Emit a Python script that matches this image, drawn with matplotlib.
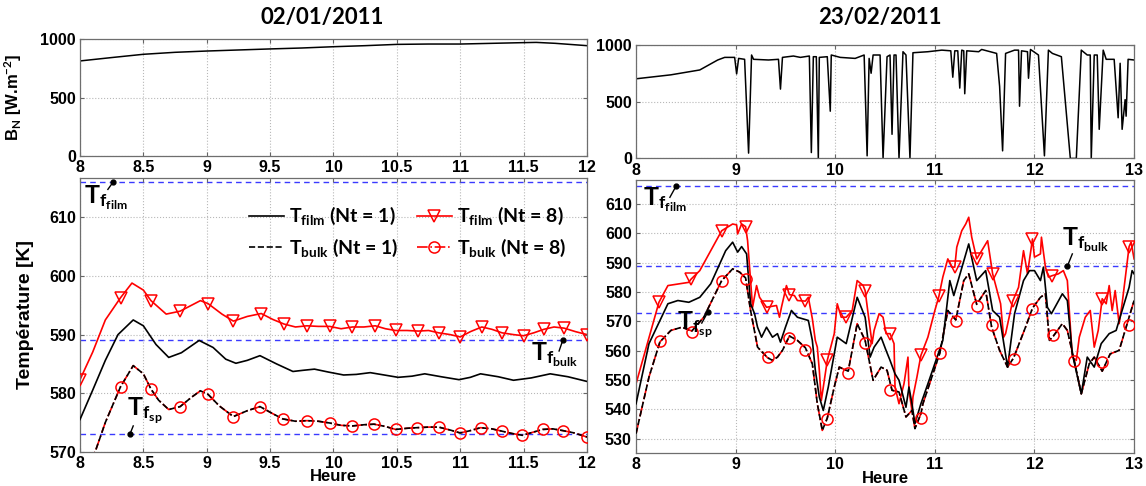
import numpy as np
import matplotlib
matplotlib.use('Agg')
import matplotlib.pyplot as plt
from matplotlib.lines import Line2D
from matplotlib.font_manager import FontProperties

plt.rcParams['font.family'] = ['Liberation Sans', 'DejaVu Sans']
plt.rcParams['mathtext.fontset'] = 'custom'
plt.rcParams['mathtext.rm'] = 'Lato:bold'
plt.rcParams['mathtext.bf'] = 'Lato:bold'
plt.rcParams['mathtext.it'] = 'Lato:bold'

TICK_FONT = FontProperties(family='Liberation Sans', weight='bold', size=11.5)

# ---- 02/01/2011 : direct normal irradiance ----
hours_bn_l = [8.00, 8.25, 8.50, 8.75, 9.00, 9.25, 9.50, 9.75, 10.00, 10.25, 10.50,
              10.75, 11.00, 11.25, 11.50, 11.60, 11.75, 12.00]
bn_l = [815, 844, 872, 889, 900, 909, 918, 926, 937, 946, 957,
        960, 960, 966, 972, 974, 966, 946]

# ---- 02/01/2011 : temperatures ----
hours_film1_l = [8.00, 8.10, 8.20, 8.30, 8.42, 8.50, 8.60, 8.70, 8.80, 8.94,
                 9.05, 9.15, 9.23, 9.32, 9.42, 9.55, 9.68, 9.76, 9.85, 9.96,
                 10.08, 10.18, 10.29, 10.40, 10.51, 10.62, 10.72, 10.85, 10.99, 11.08,
                 11.16, 11.30, 11.42, 11.56, 11.71, 11.85, 12.00]
film1_l = [575.5, 580.5, 585.6, 590.0, 592.5, 591.5, 588.3, 586.1, 586.9, 589.0,
           587.8, 585.8, 585.1, 585.6, 586.4, 585.0, 583.7, 583.9, 584.1, 583.6,
           583.1, 583.2, 583.5, 583.1, 582.7, 582.9, 583.3, 582.8, 582.3, 582.7,
           583.3, 582.8, 582.2, 582.6, 583.3, 582.8, 582.0]

hours_film8_l = [8.00, 8.10, 8.20, 8.32, 8.41, 8.50, 8.56, 8.68, 8.79, 8.95,
                 9.01, 9.12, 9.21, 9.32, 9.43, 9.52, 9.61, 9.70, 9.79, 9.88,
                 9.97, 10.06, 10.15, 10.24, 10.33, 10.41, 10.49, 10.58, 10.67, 10.75,
                 10.83, 10.92, 11.00, 11.08, 11.17, 11.25, 11.33, 11.42, 11.50, 11.58,
                 11.66, 11.74, 11.82, 11.91, 12.00]
film8_l = [582.3, 587.0, 592.5, 596.3, 598.8, 597.6, 595.8, 593.5, 594.0, 595.8,
           595.3, 593.5, 592.3, 593.1, 593.6, 592.6, 591.8, 591.3, 591.5, 591.4,
           591.4, 591.0, 591.3, 591.3, 591.5, 591.0, 590.7, 590.7, 590.6, 590.7,
           590.3, 590.0, 589.6, 590.5, 591.3, 590.9, 590.3, 590.0, 589.8, 590.3,
           590.9, 591.3, 591.1, 590.5, 590.0]
hours_film8_mk_l = [8.00, 8.32, 8.56, 8.79, 9.01, 9.21, 9.43, 9.61, 9.79, 9.97, 10.15,
                    10.33, 10.49, 10.67, 10.83, 11.00, 11.17, 11.33, 11.50, 11.66, 11.82, 12.00]
film8_mk_l = [582.3, 596.3, 595.8, 594.0, 595.3, 592.3, 593.6, 591.8, 591.5, 591.4, 591.3,
              591.5, 590.7, 590.6, 590.3, 589.6, 591.3, 590.3, 589.8, 590.9, 591.1, 590.0]

# bulk temperature: Nt = 1 and Nt = 8 lie on top of each other
hours_bulk_l = [8.00, 8.12, 8.20, 8.32, 8.42, 8.50, 8.56, 8.62, 8.70, 8.79,
                8.88, 8.95, 9.01, 9.10, 9.21, 9.32, 9.42, 9.52, 9.60, 9.70,
                9.79, 9.88, 9.97, 10.06, 10.15, 10.24, 10.32, 10.41, 10.49, 10.58,
                10.66, 10.75, 10.83, 10.92, 11.00, 11.08, 11.16, 11.25, 11.33, 11.41,
                11.49, 11.57, 11.65, 11.73, 11.81, 11.90, 12.00]
bulk1_l = [565.0, 570.0, 575.0, 581.1, 584.7, 583.3, 580.7, 578.8, 577.2, 577.7,
           579.3, 580.4, 579.8, 577.8, 576.0, 577.0, 577.7, 576.5, 575.6, 575.2,
           575.3, 575.2, 574.9, 574.5, 574.4, 574.6, 574.7, 574.3, 573.8, 574.0,
           574.1, 574.2, 574.2, 573.7, 573.2, 573.6, 574.1, 573.9, 573.5, 573.1,
           572.8, 573.3, 573.8, 573.9, 573.6, 573.2, 572.5]
bulk8_l = list(bulk1_l)
hours_bulk8_mk_l = [8.32, 8.56, 8.79, 9.01, 9.21, 9.42, 9.60, 9.79, 9.97, 10.15, 10.32,
                    10.49, 10.66, 10.83, 11.00, 11.16, 11.33, 11.49, 11.65, 11.81, 12.00]
bulk8_mk_l = [581.1, 580.7, 577.7, 579.8, 576.0, 577.7, 575.6, 575.3, 574.9, 574.4, 574.7,
              573.8, 574.1, 574.2, 573.2, 574.1, 573.5, 572.8, 573.8, 573.6, 572.5]

# ---- 23/02/2011 : direct normal irradiance ----
hours_bn_r = [8.00, 8.35, 8.64, 8.82, 8.89, 8.99, 9.01, 9.03, 9.09, 9.13, 9.16, 9.18,
              9.33, 9.43, 9.45, 9.47, 9.58, 9.65, 9.74, 9.76, 9.78, 9.81, 9.83, 9.84,
              9.92, 9.95, 9.96, 10.05, 10.20, 10.29, 10.32, 10.34, 10.36, 10.38, 10.45,
              10.48, 10.52, 10.55, 10.57, 10.59, 10.61, 10.64, 10.68, 10.71, 10.75, 10.78,
              10.93, 11.07, 11.16, 11.18, 11.20, 11.23, 11.25, 11.27, 11.29, 11.30, 11.32,
              11.44, 11.47, 11.62, 11.65, 11.68, 11.71, 11.80, 11.84, 11.85, 11.87, 11.93,
              11.94, 11.96, 12.04, 12.10, 12.14, 12.18, 12.27, 12.36, 12.42, 12.47, 12.53,
              12.56, 12.57, 12.60, 12.63, 12.65, 12.69, 12.72, 12.80, 12.84, 12.86, 12.88,
              12.91, 12.92, 12.94, 13.00]
bn_r = [703, 738, 781, 869, 892, 892, 746, 883, 875, 47, 913, 875,
        869, 875, 612, 892, 904, 892, 904, 52, 898, 898, 0, 892,
        898, 417, 913, 892, 883, 913, 23, 883, 752, 913, 913,
        0, 898, 913, 213, 913, 913, 0, 942, 913, 0, 933,
        942, 956, 950, 717, 950, 950, 621, 956, 950, 571, 950,
        942, 962, 927, 636, 67, 927, 956, 956, 461, 950, 942,
        708, 962, 913, 23, 956, 927, 898, 0, 0, 956, 913,
        913, 0, 913, 913, 257, 956, 875, 875, 359, 840, 257,
        519, 373, 875, 869]

# ---- 23/02/2011 : temperatures ----
hours_film1_r = [8.00, 8.13, 8.32, 8.42, 8.53, 8.64, 8.75, 8.90, 8.97, 9.02, 9.06, 9.11,
                 9.15, 9.19, 9.22, 9.26, 9.31, 9.37, 9.42, 9.45, 9.50, 9.56, 9.62, 9.73,
                 9.77, 9.80, 9.84, 9.88, 9.93, 10.02, 10.11, 10.22, 10.30, 10.35, 10.39,
                 10.46, 10.51, 10.55, 10.60, 10.64, 10.71, 10.74, 10.77, 10.80, 10.86,
                 10.93, 11.08, 11.15, 11.19, 11.34, 11.42, 11.51, 11.58, 11.65, 11.73,
                 11.80, 11.89, 11.95, 12.00, 12.06, 12.09, 12.13, 12.17, 12.28, 12.33,
                 12.38, 12.47, 12.53, 12.60, 12.67, 12.75, 12.82, 12.87, 12.95, 12.98, 13.00]
film1_r = [541.9, 562.4, 576.0, 577.1, 576.5, 578.2, 582.8, 594.1, 597.0, 593.6, 595.5, 593.0,
           576.0, 572.6, 568.0, 564.6, 568.0, 564.6, 565.8, 562.9, 568.0, 573.7, 571.4, 570.3,
           563.5, 553.3, 544.2, 539.6, 547.6, 564.6, 562.4, 578.2, 571.4, 557.8, 561.2,
           564.6, 560.1, 556.7, 552.1, 549.9, 540.7, 547.6, 541.9, 535.1, 541.9,
           548.7, 563.5, 583.9, 578.8, 596.4, 583.9, 587.3, 573.7, 571.4, 554.4,
           572.6, 583.9, 587.3, 587.3, 583.9, 588.5, 574.8, 572.6, 579.4, 577.1,
           558.9, 545.3, 557.8, 554.4, 562.4, 565.8, 566.9, 572.6, 581.6, 587.3, 586.2]

hours_film8_r = [8.00, 8.23, 8.32, 8.53, 8.55, 8.64, 8.86, 8.97, 9.01, 9.02, 9.06, 9.10,
                 9.12, 9.17, 9.21, 9.24, 9.31, 9.41, 9.44, 9.46, 9.51, 9.54, 9.59, 9.62,
                 9.70, 9.73, 9.77, 9.80, 9.82, 9.84, 9.86, 9.92, 9.99, 10.02, 10.06, 10.11,
                 10.17, 10.22, 10.28, 10.30, 10.33, 10.37, 10.39, 10.44, 10.48, 10.51, 10.55,
                 10.59, 10.60, 10.64, 10.69, 10.73, 10.74, 10.77, 10.78, 10.82, 10.86, 10.93,
                 11.00, 11.04, 11.08, 11.13, 11.17, 11.20, 11.22, 11.27, 11.31, 11.34, 11.37,
                 11.42, 11.47, 11.53, 11.58, 11.66, 11.69, 11.71, 11.78, 11.84, 11.89, 11.93,
                 11.98, 12.00, 12.06, 12.07, 12.11, 12.14, 12.18, 12.24, 12.29, 12.33, 12.38,
                 12.42, 12.45, 12.51, 12.56, 12.60, 12.64, 12.68, 12.72, 12.75, 12.78, 12.81,
                 12.85, 12.88, 12.95, 12.97, 13.00]
film8_r = [548.7, 576.5, 582.2, 583.3, 584.3, 587.3, 600.9, 603.2, 602.9, 599.8, 603.2, 602.3,
           597.5, 574.8, 582.2, 578.2, 574.8, 575.4, 571.4, 574.8, 582.2, 579.1, 578.8, 577.1,
           576.9, 578.2, 570.9, 563.5, 561.2, 553.3, 543.0, 556.7, 565.8, 576.0, 571.4, 571.4,
           573.7, 583.9, 582.2, 580.5, 572.6, 562.4, 566.9, 572.6, 571.4, 565.8, 565.8,
           562.4, 547.6, 541.9, 548.7, 557.8, 546.5, 539.6, 544.2, 551.0, 558.4, 564.6,
           573.7, 578.5, 585.1, 591.3, 588.5, 588.5, 595.3, 600.9, 603.2, 605.5, 598.7,
           591.3, 594.1, 597.5, 586.2, 576.0, 564.6, 565.8, 576.8, 581.6, 594.1, 586.2,
           598.1, 591.9, 593.0, 598.7, 588.5, 585.1, 585.6, 586.2, 587.3, 583.9, 557.8,
           556.7, 564.6, 571.4, 573.7, 561.2, 566.9, 577.7, 576.0, 582.2, 573.7, 580.5,
           569.2, 576.0, 595.5, 597.0, 591.3]
hours_film8_mk_r = [8.23, 8.55, 8.86, 9.10, 9.31, 9.54, 9.70, 9.92, 10.11, 10.30, 10.55,
                    10.86, 11.04, 11.20, 11.42, 11.58, 11.78, 11.98, 12.18, 12.68, 12.95]
film8_mk_r = [576.5, 584.3, 600.9, 602.3, 574.8, 579.1, 576.9, 556.7, 571.4, 580.5, 565.8,
              558.4, 578.5, 588.5, 591.3, 586.2, 576.8, 598.1, 585.6, 577.7, 595.5]

hours_bulk_r = [8.00, 8.13, 8.24, 8.35, 8.46, 8.56, 8.68, 8.86, 8.97, 9.04, 9.10, 9.15,
                9.22, 9.32, 9.37, 9.42, 9.47, 9.54, 9.62, 9.70, 9.77, 9.82, 9.87, 9.92,
                9.99, 10.04, 10.13, 10.22, 10.30, 10.38, 10.46, 10.52, 10.57, 10.64, 10.71,
                10.77, 10.80, 10.86, 10.88, 11.05, 11.13, 11.21, 11.29, 11.34, 11.42, 11.51,
                11.57, 11.65, 11.73, 11.79, 11.91, 11.98, 12.06, 12.11, 12.15, 12.19, 12.28,
                12.33, 12.40, 12.47, 12.55, 12.60, 12.68, 12.76, 12.85, 12.92, 13.00]
bulk1_r = [531.7, 551.0, 563.0, 566.9, 568.0, 566.7, 571.4, 583.9, 587.9, 586.8, 584.8, 573.7,
           561.2, 557.6, 556.7, 557.8, 560.1, 565.0, 563.5, 561.0, 555.5, 541.9, 532.8, 537.0,
           547.6, 554.4, 553.0, 569.2, 563.5, 549.9, 554.4, 553.3, 546.5, 545.9, 537.4,
           539.6, 533.4, 538.5, 541.9, 559.2, 573.7, 570.5, 583.9, 586.2, 575.8, 580.5,
           568.0, 560.1, 554.4, 557.5, 568.0, 574.5, 578.2, 579.4, 563.5, 565.0, 569.2,
           566.9, 556.5, 545.3, 555.5, 557.8, 553.0, 558.9, 560.1, 568.0, 577.1]
bulk8_r = list(bulk1_r)
hours_bulk8_mk_r = [8.24, 8.56, 8.86, 9.10, 9.32, 9.54, 9.70, 9.92, 10.13, 10.30, 10.55,
                    10.86, 11.05, 11.21, 11.42, 11.57, 11.79, 11.98, 12.19, 12.40, 12.68, 12.95]
bulk8_mk_r = [563.2, 566.5, 583.9, 584.5, 557.8, 564.3, 560.1, 536.8, 552.4, 562.6, 546.7,
              537.2, 559.2, 570.0, 575.4, 568.8, 557.0, 574.3, 565.5, 556.5, 556.3, 568.9]

# reference temperatures (dashed blue)
t_film_ref = 616
t_bulk_ref = 589
t_sp_ref = 573

# tick positions / labels
half_hour_ticks = [8, 8.5, 9, 9.5, 10, 10.5, 11, 11.5, 12]
half_hour_labels = ['8', '8.5', '9', '9.5', '10', '10.5', '11', '11.5', '12']
hour_ticks = [8, 9, 10, 11, 12, 13]
hour_labels = ['8', '9', '10', '11', '12', '13']
bn_ticks = [0, 500, 1000]
temp_ticks_l = [570, 580, 590, 600, 610]
temp_ticks_r = [530, 540, 550, 560, 570, 580, 590, 600, 610]

RED = '#ff0000'
BLUE = '#3a3aff'


def style(ax, xt, xl, yt):
    ax.set_xticks(xt, xl, fontproperties=TICK_FONT)
    ax.set_yticks(yt, [str(v) for v in yt], fontproperties=TICK_FONT)
    ax.grid(True, linestyle=':', color='#b8b8b8', lw=0.8)
    ax.tick_params(direction='in', length=3, top=True, right=True, pad=3, color='#666666')
    for s in ax.spines.values():
        s.set_color('#6e6e6e')
        s.set_linewidth(0.9)


def ref_lines(ax):
    for v in (t_film_ref, t_bulk_ref, t_sp_ref):
        ax.axhline(v, color=BLUE, ls=(0, (4, 3)), lw=1, zorder=1)


def tag(ax, dot, tail, pos, sub):
    ax.plot([tail[0], dot[0]], [tail[1], dot[1]], color='k', lw=1, zorder=5)
    ax.plot([dot[0]], [dot[1]], 'o', color='k', ms=3.5, zorder=5)
    ax.text(pos[0], pos[1], r'$\mathbf{T_{f_{%s}}}$' % sub, fontsize=18,
            va='center', ha='left', zorder=6)


def temps(ax, h1, f1, h8, f8, hm8, fm8, hb, b1, b8, hbm, bm):
    ax.plot(h1, f1, color='k', lw=1.2, zorder=3)
    ax.plot(hb, b1, color='k', lw=1.2, ls='--', zorder=3)
    ax.plot(h8, f8, color=RED, lw=1.2, zorder=2)
    ax.plot(hb, b8, color=RED, lw=1.2, ls='-.', zorder=2)
    ax.plot(hm8, fm8, ls='none', marker='v', ms=8, mfc='none', mec=RED, mew=1.1, zorder=4)
    ax.plot(hbm, bm, ls='none', marker='o', ms=8, mfc='none', mec=RED, mew=1.1, zorder=4)


fig = plt.figure(figsize=(11.46, 4.86), dpi=100)
ax_tl = fig.add_axes([0.0698, 0.679, 0.4424, 0.240])
ax_bl = fig.add_axes([0.0698, 0.0706, 0.4424, 0.5626])
ax_tr = fig.add_axes([0.555, 0.674, 0.4346, 0.2331])
ax_br = fig.add_axes([0.555, 0.0673, 0.4346, 0.5623])

# top left
ax_tl.plot(hours_bn_l, bn_l, color='k', lw=1.1)
style(ax_tl, half_hour_ticks, half_hour_labels, bn_ticks)
ax_tl.set_xlim(8, 12)
ax_tl.set_ylim(0, 1000)
ax_tl.set_ylabel(r'B$_N$ [W.m$^{-2}$]', fontsize=12, fontweight='bold')
ax_tl.yaxis.set_label_coords(-0.11, 0.5)

# top right
ax_tr.plot(hours_bn_r, bn_r, color='k', lw=1.1)
style(ax_tr, hour_ticks, hour_labels, bn_ticks)
ax_tr.set_xlim(8, 13)
ax_tr.set_ylim(0, 1000)

# bottom left
temps(ax_bl, hours_film1_l, film1_l, hours_film8_l, film8_l, hours_film8_mk_l, film8_mk_l,
      hours_bulk_l, bulk1_l, bulk8_l, hours_bulk8_mk_l, bulk8_mk_l)
ref_lines(ax_bl)
style(ax_bl, half_hour_ticks, half_hour_labels, temp_ticks_l)
ax_bl.set_xlim(8, 12)
ax_bl.set_ylim(570, 616.7)
ax_bl.set_xlabel('Heure', fontsize=12, fontweight='bold', labelpad=-1)
ax_bl.set_ylabel('Température [K]', fontsize=14, fontweight='bold')
ax_bl.yaxis.set_label_coords(-0.09, 0.5)
tag(ax_bl, (8.263, 616.1), (8.22, 614.8), (8.03, 613.3), 'film')
tag(ax_bl, (8.394, 573.0), (8.42, 574.4), (8.37, 577.0), 'sp')
tag(ax_bl, (11.81, 589.1), (11.78, 587.2), (11.56, 586.6), 'bulk')

handles = [Line2D([], [], color='k', lw=1.2),
           Line2D([], [], color='k', lw=1.2, ls='--'),
           Line2D([], [], color=RED, lw=1.2, marker='v', ms=8, mfc='none', mew=1.1),
           Line2D([], [], color=RED, lw=1.2, ls='-.', marker='o', ms=8, mfc='none', mew=1.1)]
labels = [r'$\mathbf{T_{film}}$ (Nt = 1)', r'$\mathbf{T_{bulk}}$ (Nt = 1)',
          r'$\mathbf{T_{film}}$ (Nt = 8)', r'$\mathbf{T_{bulk}}$ (Nt = 8)']
ax_bl.legend(handles, labels, ncol=2, loc='upper right', bbox_to_anchor=(0.995, 0.965),
             frameon=False, prop={'family': 'Lato', 'weight': 'bold', 'size': 14},
             handlelength=1.8, handletextpad=0.3, columnspacing=0.9, labelspacing=0.5)

# bottom right
temps(ax_br, hours_film1_r, film1_r, hours_film8_r, film8_r, hours_film8_mk_r, film8_mk_r,
      hours_bulk_r, bulk1_r, bulk8_r, hours_bulk8_mk_r, bulk8_mk_r)
ref_lines(ax_br)
style(ax_br, hour_ticks, hour_labels, temp_ticks_r)
ax_br.set_xlim(8, 13)
ax_br.set_ylim(525, 618.2)
ax_br.set_xlabel('Heure', fontsize=12, fontweight='bold', labelpad=-1)
tag(ax_br, (8.40, 616.0), (8.34, 612.3), (8.07, 611.5), 'film')
tag(ax_br, (12.33, 588.8), (12.38, 593.0), (12.28, 598.0), 'bulk')
tag(ax_br, (8.72, 573.1), (8.66, 569.4), (8.41, 569.0), 'sp')

fig.text(0.281, 0.963, '02/01/2011', ha='center', va='center', fontsize=16,
         family='Lato', weight='bold')
fig.text(0.768, 0.963, '23/02/2011', ha='center', va='center', fontsize=16,
         family='Lato', weight='bold')

fig.savefig('out.png', dpi=100)
